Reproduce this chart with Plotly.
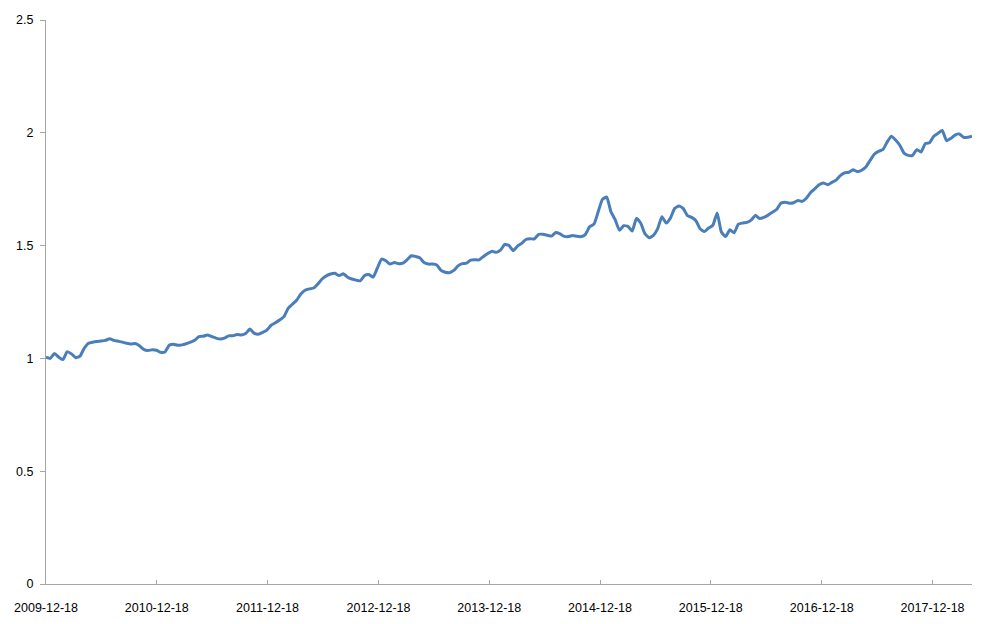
import pandas as pd
import plotly.graph_objects as go

# biweekly readings, first date 2009-12-18
start_date = "2009-12-18"
values = [
    1.005, 1.000, 1.022, 1.005, 0.995, 1.030, 1.020, 1.003, 1.010, 1.045,
    1.067, 1.072, 1.075, 1.077, 1.080, 1.087, 1.080, 1.076, 1.072, 1.067,
    1.064, 1.066, 1.056, 1.040, 1.035, 1.038, 1.036, 1.027, 1.028, 1.058,
    1.063, 1.058, 1.060, 1.065, 1.072, 1.080, 1.097, 1.098, 1.104, 1.097,
    1.090, 1.086, 1.090, 1.100, 1.100, 1.106, 1.104, 1.110, 1.130, 1.112,
    1.107, 1.115, 1.125, 1.147, 1.158, 1.170, 1.185, 1.222, 1.240, 1.258,
    1.285, 1.302, 1.308, 1.312, 1.330, 1.352, 1.366, 1.374, 1.377, 1.367,
    1.375, 1.360, 1.352, 1.347, 1.344, 1.367, 1.372, 1.360, 1.400, 1.440,
    1.433, 1.418, 1.425, 1.420, 1.422, 1.437, 1.455, 1.452, 1.446, 1.425,
    1.418, 1.418, 1.414, 1.390, 1.382, 1.380, 1.390, 1.410, 1.420, 1.422,
    1.436, 1.437, 1.437, 1.452, 1.465, 1.475, 1.470, 1.480, 1.505, 1.500,
    1.478, 1.498, 1.510, 1.527, 1.530, 1.530, 1.550, 1.550, 1.546, 1.542,
    1.558, 1.552, 1.541, 1.540, 1.545, 1.541, 1.540, 1.550, 1.584, 1.595,
    1.650, 1.705, 1.715, 1.650, 1.615, 1.568, 1.588, 1.585, 1.565, 1.620,
    1.600, 1.553, 1.535, 1.545, 1.575, 1.628, 1.600, 1.622, 1.665, 1.675,
    1.665, 1.633, 1.625, 1.610, 1.575, 1.562, 1.578, 1.590, 1.645, 1.560,
    1.540, 1.570, 1.557, 1.595, 1.600, 1.603, 1.613, 1.634, 1.620, 1.625,
    1.635, 1.648, 1.660, 1.688, 1.692, 1.688, 1.690, 1.700, 1.696, 1.710,
    1.735, 1.752, 1.770, 1.778, 1.770, 1.780, 1.790, 1.810, 1.822, 1.825,
    1.836, 1.828, 1.834, 1.848, 1.877, 1.905, 1.918, 1.925, 1.958, 1.985,
    1.968, 1.945, 1.910, 1.900, 1.900, 1.925, 1.915, 1.952, 1.956, 1.985,
    1.998, 2.010, 1.965, 1.975, 1.990, 1.995, 1.980, 1.980, 1.985,
]
dates = pd.date_range(start_date, periods=len(values), freq="14D")

tick_dates = ["2009-12-18", "2010-12-18", "2011-12-18", "2012-12-18", "2013-12-18",
              "2014-12-18", "2015-12-18", "2016-12-18", "2017-12-18"]
y_ticks = [0, 0.5, 1, 1.5, 2, 2.5]
y_labels = ["0", "0.5", "1", "1.5", "2", "2.5"]

fig = go.Figure()
fig.add_trace(go.Scatter(
    x=dates, y=values, mode="lines",
    line=dict(color="#4a7ebb", width=3, shape="spline", smoothing=0.5),
    showlegend=False, hoverinfo="x+y",
))

axis_col = "#a6a6a6"
# page body has an 8px margin, so the figure is a bit smaller and offset
fig.update_layout(
    width=976, height=616,
    margin=dict(l=38, r=12, t=12, b=40, autoexpand=False),
    paper_bgcolor="white", plot_bgcolor="white",
    font=dict(family="Liberation Sans, Arial, sans-serif", size=12.5, color="black"),
    xaxis=dict(
        type="date",
        range=[dates[0], dates[-1]],
        tickvals=tick_dates, ticktext=tick_dates,
        showgrid=False, zeroline=False,
        showline=True, linecolor=axis_col, linewidth=1,
        ticks="inside", ticklen=4, tickcolor=axis_col,
        ticklabelstandoff=12,
    ),
    yaxis=dict(
        range=[0, 2.5],
        tickvals=y_ticks, ticktext=y_labels,
        showgrid=False, zeroline=False,
        showline=True, linecolor=axis_col, linewidth=1,
        ticks="outside", ticklen=5, tickcolor=axis_col,
        ticklabelstandoff=4,
    ),
)

fig.write_html("out.html")
